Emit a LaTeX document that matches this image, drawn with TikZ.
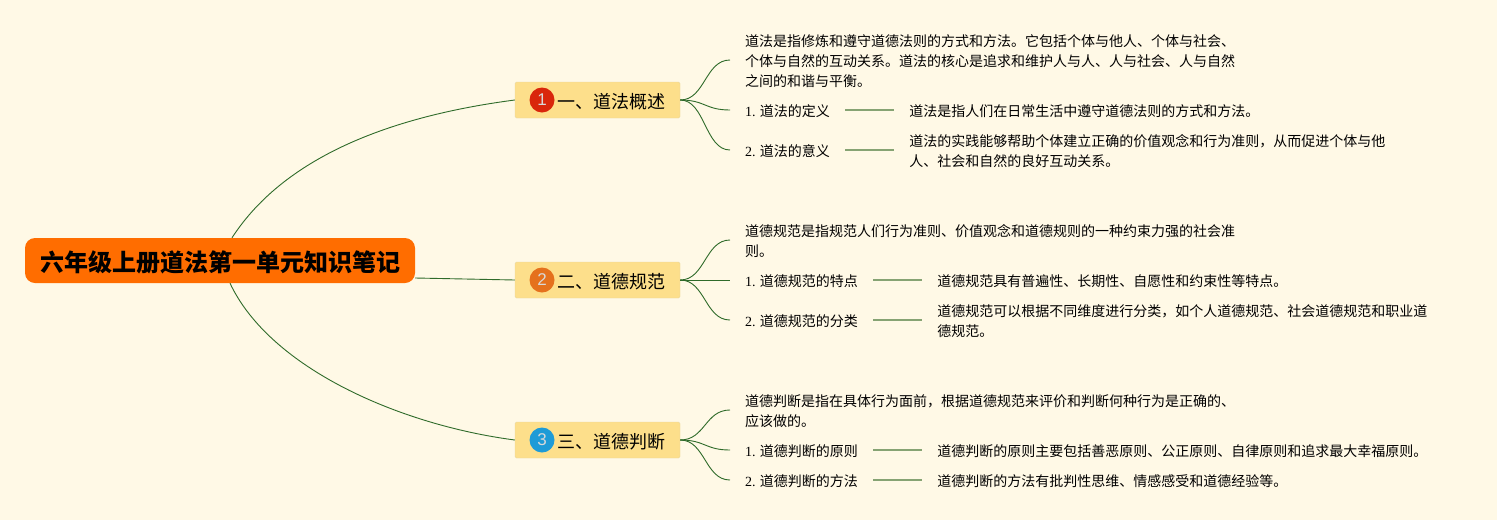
\documentclass[tikz,border=0pt]{standalone}
\usepackage{fontspec}
\setmainfont{Liberation Serif}
\newfontfamily\cjk{Noto Sans CJK SC}
\newfontfamily\badgefont{Liberation Sans}
\usepackage{tikz}
\usetikzlibrary{positioning}
\definecolor{paper}{HTML}{FFF9E6}
\definecolor{rootfill}{HTML}{FF6D00}
\definecolor{topicfill}{HTML}{FDDF8B}
\definecolor{topicedge}{HTML}{E9D79E}
\definecolor{branch}{HTML}{2F6B2A}
\definecolor{leaf}{HTML}{86A373}
\definecolor{badgeone}{HTML}{D9260B}
\definecolor{badgetwo}{HTML}{E5711D}
\definecolor{badgethree}{HTML}{1E9BD7}
\tikzstyle{root}=[rectangle,rounded corners=10,fill=rootfill,minimum width=390,minimum height=45,inner sep=0,font=\fontsize{24}{28}\selectfont\cjk\bfseries]
\tikzstyle{topic}=[rectangle,rounded corners=1.5,draw=topicedge,fill=topicfill,minimum width=165,minimum height=36,inner sep=0,font=\fontsize{18}{22}\selectfont\cjk]
\tikzstyle{badge}=[circle,minimum size=25,inner sep=0,text=white!85!black,font=\fontsize{17}{17}\selectfont\badgefont]
\tikzstyle{note}=[rectangle,align=left,inner ysep=0,inner xsep=15,font=\fontsize{14}{20}\selectfont\cjk]
\tikzstyle{detail}=[note,yshift=-1]
\tikzstyle{branchline}=[draw=branch,line width=.9]
\tikzstyle{leafline}=[draw=leaf,line width=1.4]
\newcommand{\lift}[2]{\raisebox{#1}[\height][\depth]{#2}}
\newcommand{\num}[1]{\lift{-1pt}{{\rmfamily #1.} }}
\begin{document}
\begin{tikzpicture}[x=1pt,y=-1pt,node distance=49pt]
	\fill[paper] (0,0) rectangle (1497,520);
	\node[root] (root) at (220,260.5) {\lift{-2pt}{\hspace{1pt}六年级上册道法第一单元知识笔记}};
	% first branch
	\node[topic] (law) at (597.5,100) {\lift{-1.5pt}{\hspace{27pt}一、道法概述}};
	\node[badge,fill=badgeone] (law badge) at (542,100) {1};
	\node[note,anchor=west] (law text) at (730,61) {道法是指修炼和遵守道德法则的方式和方法。它包括个体与他人、个体与社会、\\个体与自然的互动关系。道法的核心是追求和维护人与人、人与社会、人与自然\\之间的和谐与平衡。};
	\node[note,anchor=west] (law def) at (730,110) {\num{1}\lift{-1pt}{道法的定义}};
	\node[detail] (law def text) [right=of law def] {道法是指人们在日常生活中遵守道德法则的方式和方法。};
	\node[note,anchor=west] (law mean) at (730,150) {\num{2}\lift{-1pt}{道法的意义}};
	\node[detail] (law mean text) [right=of law mean] {道法的实践能够帮助个体建立正确的价值观念和行为准则，从而促进个体与他\\人、社会和自然的良好互动关系。};
	% second branch
	\node[topic] (norm) at (597.5,280) {\lift{-1.5pt}{\hspace{27pt}二、道德规范}};
	\node[badge,fill=badgetwo] (norm badge) at (542,280) {2};
	\node[note,anchor=west] (norm text) at (730,241) {道德规范是指规范人们行为准则、价值观念和道德规则的一种约束力强的社会准\\则。};
	\node[note,anchor=west] (norm trait) at (730,280) {\num{1}\lift{-1pt}{道德规范的特点}};
	\node[detail] (norm trait text) [right=of norm trait] {道德规范具有普遍性、长期性、自愿性和约束性等特点。};
	\node[note,anchor=west] (norm kind) at (730,320) {\num{2}\lift{-1pt}{道德规范的分类}};
	\node[detail] (norm kind text) [right=of norm kind] {道德规范可以根据不同维度进行分类，如个人道德规范、社会道德规范和职业道\\德规范。};
	% third branch
	\node[topic] (judge) at (597.5,440) {\lift{-1.5pt}{\hspace{27pt}三、道德判断}};
	\node[badge,fill=badgethree] (judge badge) at (542,440) {3};
	\node[note,anchor=west] (judge text) at (730,411) {道德判断是指在具体行为面前，根据道德规范来评价和判断何种行为是正确的、\\应该做的。};
	\node[note,anchor=west] (judge rule) at (730,450) {\num{1}\lift{-1pt}{道德判断的原则}};
	\node[detail] (judge rule text) [right=of judge rule] {道德判断的原则主要包括善恶原则、公正原则、自律原则和追求最大幸福原则。};
	\node[note,anchor=west] (judge way) at (730,480) {\num{2}\lift{-1pt}{道德判断的方法}};
	\node[detail] (judge way text) [right=of judge way] {道德判断的方法有批判性思维、情感感受和道德经验等。};
	% root to topics
	\draw[branchline] ([xshift=12]root.north) .. controls +(55,-85) and +(-115,15) .. (law.west);
	\draw[branchline] ([xshift=10]root.south) .. controls +(40,85) and +(-115,-15) .. (judge.west);
	\draw[branchline] ([yshift=-17.5]root.east) -- (norm.west);
	% topics to details
	\draw[branchline] (law.east) .. controls +(25,0) and +(-25,0) .. ([yshift=1]law text.west);
	\draw[branchline] (law.east) .. controls +(25,0) and +(-25,0) .. (law def.west);
	\draw[branchline] (law.east) .. controls +(25,0) and +(-25,0) .. (law mean.west);
	\draw[branchline] (norm.east) .. controls +(25,0) and +(-25,0) .. ([yshift=1]norm text.west);
	\draw[branchline] (norm.east) -- (norm trait.west);
	\draw[branchline] (norm.east) .. controls +(25,0) and +(-25,0) .. (norm kind.west);
	\draw[branchline] (judge.east) .. controls +(25,0) and +(-25,0) .. ([yshift=1]judge text.west);
	\draw[branchline] (judge.east) .. controls +(25,0) and +(-25,0) .. (judge rule.west);
	\draw[branchline] (judge.east) .. controls +(25,0) and +(-25,0) .. (judge way.west);
	% details to their text
	\draw[leafline] (law def.east) -- (law def.east -| law def text.west);
	\draw[leafline] (law mean.east) -- (law mean.east -| law mean text.west);
	\draw[leafline] (norm trait.east) -- (norm trait.east -| norm trait text.west);
	\draw[leafline] (norm kind.east) -- (norm kind.east -| norm kind text.west);
	\draw[leafline] (judge rule.east) -- (judge rule.east -| judge rule text.west);
	\draw[leafline] (judge way.east) -- (judge way.east -| judge way text.west);
\end{tikzpicture}
\end{document}
